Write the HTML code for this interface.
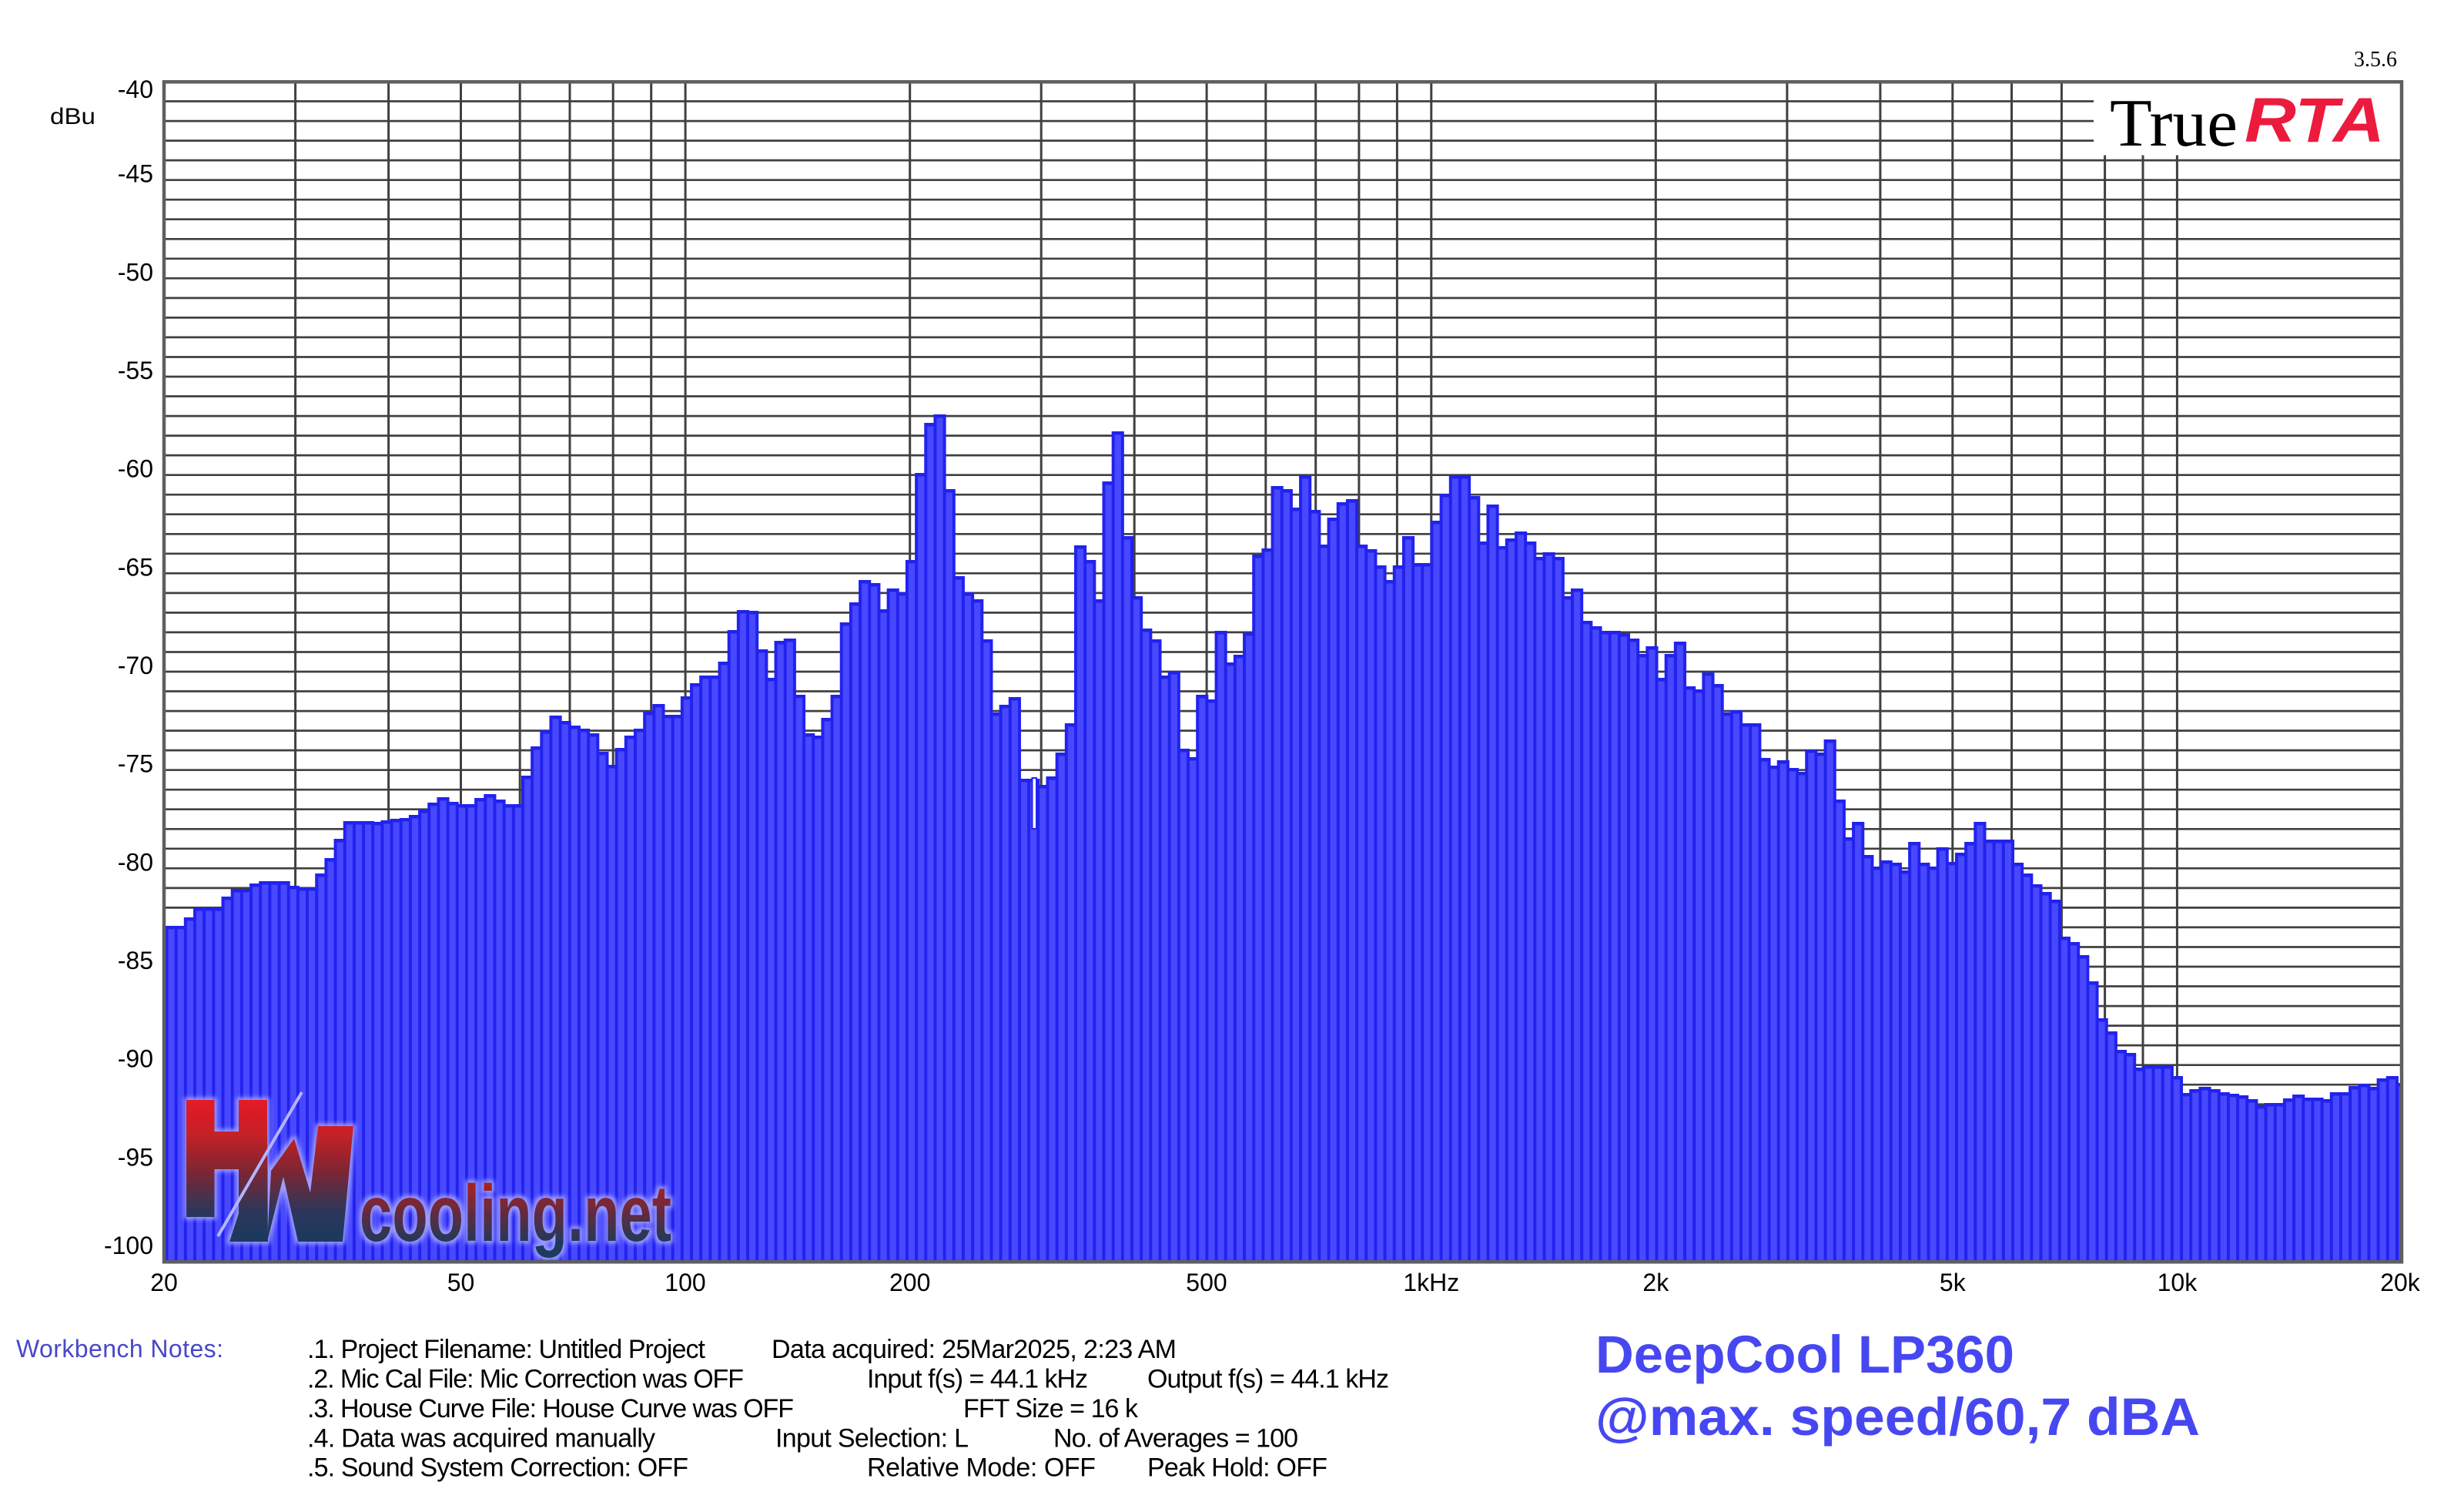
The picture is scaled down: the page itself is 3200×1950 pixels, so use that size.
<!DOCTYPE html>
<html><head><meta charset="utf-8"><style>html,body{margin:0;padding:0;background:#fff}svg{display:block}</style></head>
<body>
<svg xmlns="http://www.w3.org/2000/svg" width="3200" height="1950" viewBox="0 0 3200 1950" font-family="'Liberation Sans', Arial, sans-serif">
<defs>
<clipPath id="plot"><rect x="213" y="106" width="2906" height="1532"/></clipPath>
<pattern id="stripe" patternUnits="userSpaceOnUse" x="216.5" y="0" width="12.17" height="20"><rect x="2" y="0" width="8.17" height="20" fill="#4848ff"/></pattern>
<path id="bars" d="M213,1638V1202H228.67V1202h12.17V1191h12.17V1178h12.17V1178h12.17V1178h12.17V1164h12.17V1154h12.17V1154h12.17V1147h12.17V1144h12.17V1144h12.17V1144h12.17V1150h12.17V1152h12.17V1152h12.17V1134h12.17V1114h12.17V1089h12.17V1066h12.17V1066h12.17V1066h12.17V1067h12.17V1065h12.17V1063h12.17V1062h12.17V1058h12.17V1051h12.17V1042h12.17V1035h12.17V1041h12.17V1044h12.17V1044h12.17V1036h12.17V1031h12.17V1038h12.17V1044h12.17V1044h12.17V1007h12.17V969h12.17V948h12.17V929h12.17V936h12.17V942h12.17V946h12.17V952h12.17V976h12.17V993h12.17V971h12.17V955h12.17V946h12.17V924h12.17V914h12.17V928h12.17V928h12.17V904h12.17V887h12.17V877h12.17V877h12.17V859h12.17V818h12.17V792h12.17V793h12.17V843h12.17V880h12.17V832h12.17V829h12.17V902h12.17V952h12.17V955h12.17V932h12.17V902h12.17V808h12.17V782h12.17V753h12.17V757h12.17V791h12.17V764h12.17V769h12.17V727h12.17V614h12.17V549h12.17V538h12.17V635h12.17V748h12.17V769h12.17V778h12.17V830h12.17V925h12.17V915h12.17V905h12.17V1011h12.17V1011h12.17V1019h12.17V1008h12.17V977h12.17V939h12.17V708h12.17V727h12.17V778h12.17V625h12.17V560h12.17V696h12.17V774h12.17V816h12.17V830h12.17V877h12.17V871h12.17V972h12.17V983h12.17V902h12.17V908h12.17V819h12.17V860h12.17V850h12.17V821h12.17V720h12.17V712h12.17V631h12.17V635h12.17V659h12.17V617h12.17V662h12.17V707h12.17V672h12.17V652h12.17V648h12.17V707h12.17V713h12.17V734h12.17V753h12.17V734h12.17V696h12.17V731h12.17V731h12.17V676h12.17V641h12.17V617h12.17V617h12.17V644h12.17V703h12.17V655h12.17V709h12.17V699h12.17V690h12.17V703h12.17V723h12.17V717h12.17V723h12.17V774h12.17V764h12.17V806h12.17V813h12.17V819h12.17V819h12.17V822h12.17V829h12.17V849h12.17V839h12.17V880h12.17V849h12.17V833h12.17V891h12.17V895h12.17V873h12.17V888h12.17V925h12.17V922h12.17V939h12.17V939h12.17V984h12.17V994h12.17V987h12.17V997h12.17V1002h12.17V973h12.17V977h12.17V960h12.17V1038h12.17V1087h12.17V1067h12.17V1110h12.17V1125h12.17V1117h12.17V1120h12.17V1130h12.17V1093h12.17V1120h12.17V1125h12.17V1100h12.17V1119h12.17V1107h12.17V1093h12.17V1067h12.17V1090h12.17V1090h12.17V1090h12.17V1120h12.17V1134h12.17V1148h12.17V1158h12.17V1168h12.17V1216h12.17V1223h12.17V1240h12.17V1274h12.17V1322h12.17V1339h12.17V1363h12.17V1367h12.17V1386h12.17V1383h12.17V1383h12.17V1383h12.17V1397h12.17V1419h12.17V1414h12.17V1411h12.17V1414h12.17V1418h12.17V1420h12.17V1422h12.17V1427h12.17V1435h12.17V1432h12.17V1432h12.17V1426h12.17V1421h12.17V1425h12.17V1425h12.17V1427h12.17V1418h12.17V1418h12.17V1410h12.17V1407h12.17V1411h12.17V1400h12.17V1397h12.17V1406H3119V1660H213Z"/>
<linearGradient id="lg" gradientUnits="userSpaceOnUse" x1="0" y1="1428" x2="0" y2="1612">
<stop offset="0" stop-color="#e41e25"/><stop offset="0.25" stop-color="#c42027"/><stop offset="0.5" stop-color="#7e2633"/><stop offset="0.78" stop-color="#2e365a"/><stop offset="1" stop-color="#1a3a5e"/>
</linearGradient>
<linearGradient id="lg2" gradientUnits="userSpaceOnUse" x1="0" y1="1538" x2="0" y2="1616">
<stop offset="0" stop-color="#a52326"/><stop offset="0.5" stop-color="#5e2c42"/><stop offset="1" stop-color="#1a3a5e"/>
</linearGradient>
<filter id="glow" x="-20%" y="-20%" width="140%" height="140%">
<feMorphology in="SourceAlpha" operator="dilate" radius="3" result="d"/>
<feGaussianBlur in="d" stdDeviation="3" result="b"/>
<feFlood flood-color="#a8a8ff" flood-opacity="0.9"/>
<feComposite in2="b" operator="in" result="g"/>
<feMerge><feMergeNode in="g"/><feMergeNode in="SourceGraphic"/></feMerge>
</filter>
</defs>

<rect x="0" y="0" width="3200" height="1950" fill="#fff"/>

<!-- horizontal gridlines -->
<path fill="none" stroke="#404040" stroke-width="2.7" d="M213,131.5H3119M213,157.1H3119M213,182.6H3119M213,208.1H3119M213,233.7H3119M213,259.2H3119M213,284.7H3119M213,310.3H3119M213,335.8H3119M213,361.3H3119M213,386.9H3119M213,412.4H3119M213,437.9H3119M213,463.5H3119M213,489H3119M213,514.5H3119M213,540.1H3119M213,565.6H3119M213,591.1H3119M213,616.7H3119M213,642.2H3119M213,667.7H3119M213,693.3H3119M213,718.8H3119M213,744.3H3119M213,769.9H3119M213,795.4H3119M213,820.9H3119M213,846.5H3119M213,872H3119M213,897.5H3119M213,923.1H3119M213,948.6H3119M213,974.1H3119M213,999.7H3119M213,1025.2H3119M213,1050.7H3119M213,1076.3H3119M213,1101.8H3119M213,1127.3H3119M213,1152.9H3119M213,1178.4H3119M213,1203.9H3119M213,1229.5H3119M213,1255H3119M213,1280.5H3119M213,1306.1H3119M213,1331.6H3119M213,1357.1H3119M213,1382.7H3119M213,1408.2H3119M213,1433.7H3119M213,1459.3H3119M213,1484.8H3119M213,1510.3H3119M213,1535.9H3119M213,1561.4H3119M213,1586.9H3119M213,1612.5H3119"/>
<!-- vertical gridlines -->
<path fill="none" stroke="#404040" stroke-width="3" d="M383.6,106V1638M504.6,106V1638M598.5,106V1638M675.2,106V1638M740,106V1638M796.2,106V1638M845.7,106V1638M890.1,106V1638M1181.7,106V1638M1352.2,106V1638M1473.2,106V1638M1567.1,106V1638M1643.8,106V1638M1708.7,106V1638M1764.9,106V1638M1814.4,106V1638M1858.8,106V1638M2150.3,106V1638M2320.9,106V1638M2441.9,106V1638M2535.8,106V1638M2612.5,106V1638M2677.4,106V1638M2733.6,106V1638M2783,106V1638M2827.4,106V1638"/>

<!-- bars -->
<g clip-path="url(#plot)">
<use href="#bars" transform="translate(0,2)" fill="#2222ee" stroke="#2222ee" stroke-width="4" stroke-linejoin="miter"/>
<use href="#bars" transform="translate(0,4.5)" fill="url(#stripe)"/>
<rect x="1339.5" y="1009" width="7.5" height="68" fill="#2222ee"/>
<rect x="1341.5" y="1011" width="3.5" height="64" fill="#fff"/>
</g>

<!-- HWcooling logo -->
<g filter="url(#glow)" fill="url(#lg)">
<rect x="242" y="1428" width="36.5" height="152"/>
<rect x="277" y="1469" width="35" height="49"/>
<polygon points="310,1428 347,1428 348,1612 298,1612 310,1575"/>
<polygon points="347,1612 368,1528 387,1612 445,1612 459,1462 413,1462 403,1548 382,1478 352,1520"/>
</g>
<line x1="283" y1="1605" x2="392" y2="1418" stroke="#b4b4ff" stroke-width="4"/>
<text x="467" y="1611" font-size="104" font-weight="bold" textLength="405" lengthAdjust="spacingAndGlyphs" fill="url(#lg2)" filter="url(#glow)">cooling.net</text>

<!-- TrueRTA box -->
<rect x="2719" y="108.5" width="398" height="93" fill="#fff"/>
<text x="2740" y="189" font-family="'Liberation Serif', 'Times New Roman', serif" font-size="88" textLength="166" lengthAdjust="spacingAndGlyphs" fill="#000">True</text>
<text x="2915" y="184" font-size="82" font-weight="bold" font-style="italic" textLength="182" lengthAdjust="spacingAndGlyphs" fill="#ec1b3e">RTA</text>
<text x="3113" y="86" text-anchor="end" font-family="'Liberation Serif', 'Times New Roman', serif" font-size="28" fill="#000">3.5.6</text>

<!-- plot border -->
<rect x="213" y="106.3" width="2906" height="1532" fill="none" stroke="#5f5f5f" stroke-width="4.5"/>

<!-- y axis labels -->
<g font-size="32" fill="#000" text-anchor="end">
<text x="199" y="127">-40</text>
<text x="199" y="236.7">-45</text>
<text x="199" y="364.3">-50</text>
<text x="199" y="492">-55</text>
<text x="199" y="619.7">-60</text>
<text x="199" y="747.3">-65</text>
<text x="199" y="875">-70</text>
<text x="199" y="1002.7">-75</text>
<text x="199" y="1130.3">-80</text>
<text x="199" y="1258">-85</text>
<text x="199" y="1385.7">-90</text>
<text x="199" y="1513.3">-95</text>
<text x="199" y="1628">-100</text>
</g>
<text x="65" y="161" font-size="30" textLength="59" lengthAdjust="spacingAndGlyphs" fill="#000">dBu</text>

<!-- x axis labels -->
<g font-size="32" fill="#000" text-anchor="middle">
<text x="213" y="1676">20</text>
<text x="598.5" y="1676">50</text>
<text x="890" y="1676">100</text>
<text x="1181.7" y="1676">200</text>
<text x="1567" y="1676">500</text>
<text x="1858.8" y="1676">1kHz</text>
<text x="2150.3" y="1676">2k</text>
<text x="2535.8" y="1676">5k</text>
<text x="2827.4" y="1676">10k</text>
<text x="3117" y="1676">20k</text>
</g>

<!-- notes -->
<text x="21" y="1762" font-size="32" textLength="269" fill="#4848c8">Workbench Notes:</text>
<g font-size="34" fill="#000">
<text x="399" y="1763" textLength="517">.1. Project Filename: Untitled Project</text>
<text x="1002" y="1763" textLength="526">Data acquired: 25Mar2025, 2:23 AM</text>
<text x="399" y="1801.7" textLength="567">.2. Mic Cal File: Mic Correction was OFF</text>
<text x="1126" y="1801.7" textLength="287">Input f(s) = 44.1 kHz</text>
<text x="1490" y="1801.7" textLength="314">Output f(s) = 44.1 kHz</text>
<text x="399" y="1840" textLength="632">.3. House Curve File: House Curve was OFF</text>
<text x="1251" y="1840" textLength="227">FFT Size = 16 k</text>
<text x="399" y="1878.3" textLength="452">.4. Data was acquired manually</text>
<text x="1007" y="1878.3" textLength="251">Input Selection: L</text>
<text x="1368" y="1878.3" textLength="318">No. of Averages = 100</text>
<text x="399" y="1916.7" textLength="495">.5. Sound System Correction: OFF</text>
<text x="1126" y="1916.7" textLength="297">Relative Mode:  OFF</text>
<text x="1490" y="1916.7" textLength="234">Peak Hold: OFF</text>
</g>

<!-- title -->
<g font-size="69" font-weight="bold" fill="#4747f2">
<text x="2072" y="1782" textLength="544" lengthAdjust="spacingAndGlyphs">DeepCool LP360</text>
<text x="2072" y="1863" textLength="785" lengthAdjust="spacingAndGlyphs">@max. speed/60,7 dBA</text>
</g>
</svg>
</body></html>
